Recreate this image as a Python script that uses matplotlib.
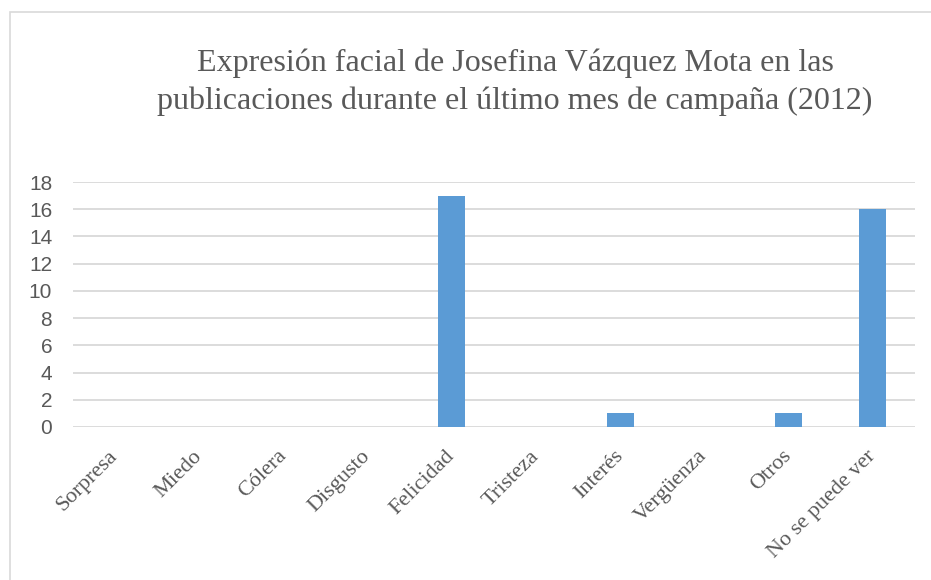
import matplotlib.pyplot as plt
import numpy as np
from matplotlib.patches import Rectangle

categorias = ['Sorpresa', 'Miedo', 'Cólera', 'Disgusto', 'Felicidad',
              'Tristeza', 'Interés', 'Vergüenza', 'Otros', 'No se puede ver']
valores = [0, 0, 0, 0, 17, 0, 1, 0, 1, 16]
y_ticks = [0, 2, 4, 6, 8, 10, 12, 14, 16, 18]

titulo = ('Expresión facial de Josefina Vázquez Mota en las\n'
          'publicaciones durante el último mes de campaña (2012)')

fig = plt.figure(figsize=(9.31, 5.8), dpi=100)
# marco exterior del gráfico (recortado a la derecha y abajo)
fig.patches.append(Rectangle((10 / 931, -0.1), 1.2, 1 - 12 / 580 + 0.1,
                             transform=fig.transFigure, fill=False,
                             edgecolor='#d9d9d9', linewidth=1.2))

ax = fig.add_axes([73 / 931, 1 - 427 / 580, (915 - 73) / 931, (427 - 182) / 580])
x = np.arange(len(categorias))
ax.bar(x, valores, width=0.32, color='#5b9bd5', zorder=3)

ax.set_xlim(-0.5, len(categorias) - 0.5)
ax.set_ylim(0, 18)
ax.set_yticks(y_ticks)
ax.yaxis.grid(True, color='#d9d9d9', linewidth=1.3, zorder=0)
for s in ax.spines.values():
    s.set_visible(False)
ax.tick_params(axis='both', length=0)
ax.tick_params(axis='y', pad=15, labelsize=15, labelcolor='#595959')
for lab in ax.get_yticklabels():
    lab.set_fontfamily('Liberation Sans')

ax.set_xticks(x)
ax.set_xticklabels(categorias, rotation=45, ha='right', va='center',
                   rotation_mode='anchor', family='Liberation Serif',
                   fontsize=16, color='#595959')
ax.tick_params(axis='x', pad=19)

fig.text(515 / 931, 1 - 82 / 580, titulo, ha='center', va='center',
         family='Liberation Serif', fontsize=23, color='#595959',
         linespacing=1.38)

fig.savefig('out.png', dpi=100)
